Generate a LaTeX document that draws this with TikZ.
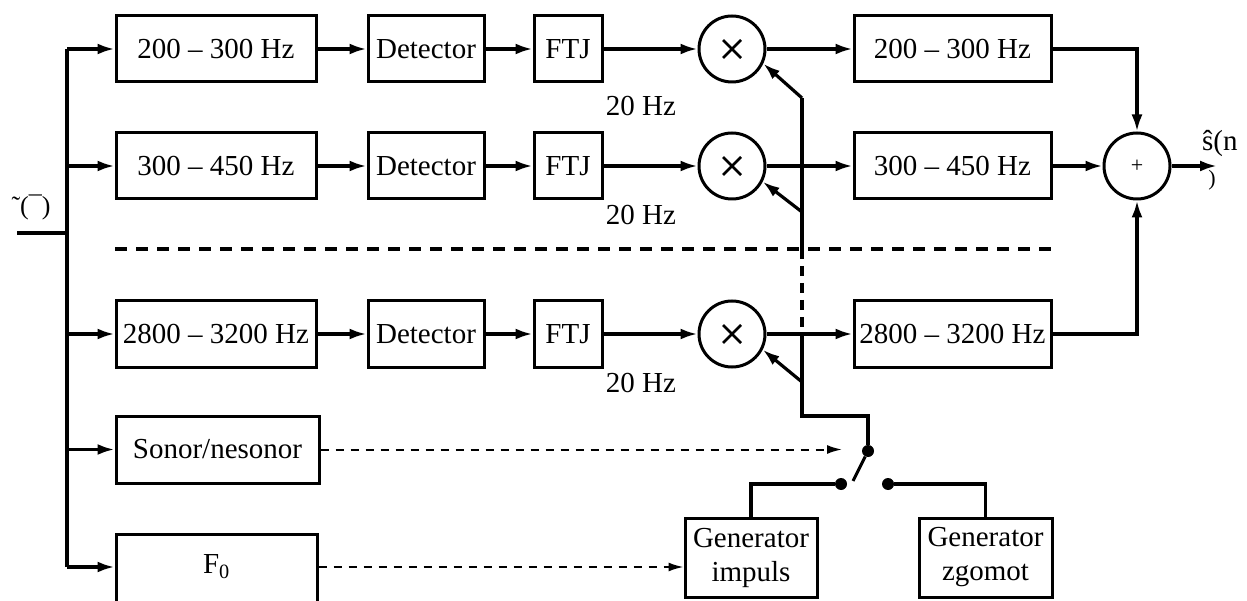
\documentclass[tikz,border=0pt]{standalone}
\usepackage{fontspec}
\setmainfont{Liberation Serif}
\usetikzlibrary{arrows.meta}
\begin{document}
\begin{tikzpicture}[x=1pt,y=-1pt, font=\fontsize{29}{34}\selectfont,
  blk/.style={draw, line width=3pt, inner sep=0pt, align=center},
  mul/.style={draw, circle, line width=3pt, minimum size=66pt, inner sep=0pt},
  conn/.style={line width=3.2pt},
  arr/.style={conn, -{Latex[length=17pt,width=11pt]}},
  darr/.style={line width=2pt, dash pattern=on 8pt off 7pt, -{Latex[length=15pt,width=9pt]}},
  sepline/.style={line width=3.2pt, dash pattern=on 12pt off 9pt},
  crs/.style={line width=2.6pt},
  dot/.style={circle, fill, inner sep=0pt, minimum size=12pt}]
\useasboundingbox (0,0) rectangle (1247,601);

% row 1
\node[blk, minimum width=200pt, minimum height=66pt] (b1) at (216,49) {200 -- 300 Hz};
\node[blk, minimum width=116pt, minimum height=66pt] (d1) at (426,49) {Detector};
\node[blk, minimum width=68pt, minimum height=66pt] (f1) at (568,49) {FTJ};
\node[mul] (m1) at (732,49) {};
\node[blk, minimum width=197pt, minimum height=66pt] (o1) at (952.5,49) {200 -- 300 Hz};
% row 2
\node[blk, minimum width=200pt, minimum height=66pt] (b2) at (216,166) {300 -- 450 Hz};
\node[blk, minimum width=116pt, minimum height=66pt] (d2) at (426,166) {Detector};
\node[blk, minimum width=68pt, minimum height=66pt] (f2) at (568,166) {FTJ};
\node[mul] (m2) at (732,166) {};
\node[blk, minimum width=197pt, minimum height=66pt] (o2) at (952.5,166) {300 -- 450 Hz};
% row 3
\node[blk, minimum width=200pt, minimum height=66pt] (b3) at (216,334) {2800 -- 3200 Hz};
\node[blk, minimum width=116pt, minimum height=66pt] (d3) at (426,334) {Detector};
\node[blk, minimum width=68pt, minimum height=66pt] (f3) at (568,334) {FTJ};
\node[mul] (m3) at (732,334) {};
\node[blk, minimum width=197pt, minimum height=66pt] (o3) at (952.5,334) {2800 -- 3200 Hz};
% others
\node[blk, minimum width=203pt, minimum height=67pt] (son) at (217.5,449.5) {Sonor/nesonor};
\node[blk, minimum width=201pt, minimum height=70pt] (f0) at (216.5,569) {};
\node[inner sep=0pt] (f0t) at (216.5,567) {F\textsubscript{0}};
\node[blk, minimum width=132pt, minimum height=79pt] (gi) at (751,557.5) {Generator\\impuls};
\node[blk, minimum width=133pt, minimum height=79pt] (gz) at (985.5,557.5) {Generator\\zgomot};
\node[mul] (sum) at (1137,166) {\fontsize{22}{22}\selectfont +};

% multiplication crosses
\foreach \m in {m1,m2,m3} {
  \draw[crs] ([shift={(-9,-9)}]\m.center) -- ([shift={(9,9)}]\m.center);
  \draw[crs] ([shift={(-9,9)}]\m.center) -- ([shift={(9,-9)}]\m.center);
}

% labels
\node (l1) at (641,106) {20 Hz};
\node (l2) at (641,215) {20 Hz};
\node (l3) at (641,383) {20 Hz};
\node[anchor=west, inner sep=0pt] (lout) at (1202,144) {ŝ(n};
\node[inner sep=0pt] (lpar) at (1212,180) {\fontsize{22}{22}\selectfont )};
\node[inner sep=0pt] (lin) at (31,207) {\fontsize{26}{26}\selectfont ˜(¯)};

% input bus
\coordinate (in) at (17,233);
\coordinate (bj) at (67,233);
\draw[conn] (in) -- (bj);
\draw[conn] (b1.west -| bj) -- (f0t.west -| bj);
\foreach \n in {b1,b2,b3,son} \draw[arr] (\n.west -| bj) -- (\n.west);
\draw[arr] (f0t.west -| bj) -- (f0t.west -| f0.west);

% rows
\foreach \r in {1,2,3} {
  \draw[arr] (b\r) -- (d\r);
  \draw[arr] (d\r) -- (f\r);
  \draw[arr] (f\r) -- (m\r);
  \draw[arr] (m\r) -- (o\r);
}
\draw[arr] (o1.east) -| (sum.north);
\draw[arr] (o2) -- (sum);
\draw[arr] (o3.east) -| (sum.south);
\coordinate (out) at (1217,166);
\draw[arr] (sum) -- (out);

% separator
\coordinate (s1) at (115,249);
\coordinate (s2) at (1052,249);
\draw[sepline] (s1) -- (s2);

% switch
\node[dot] (piv) at (868,451) {};
\node[dot] (ca) at (841,484) {};
\node[dot] (cb) at (888,484) {};
\coordinate (bl) at (853,481);
\draw[line width=3pt] (piv) -- (bl);
\draw[conn] (ca) -| (gi.north);
\draw[conn] (cb) -| (gz.north);

% control line
\coordinate (j1) at (802,98);
\coordinate (j2) at (802,212);
\coordinate (j3) at (802,382);
\coordinate (v1) at (802,249);
\coordinate (v2) at (802,336);
\coordinate (c1) at (802,416);
\coordinate (c2) at (868,416);
\draw[conn] (j1) -- (v1);
\draw[conn, dash pattern=on 10pt off 7pt] (v1) -- (v2);
\draw[conn] (v2) -- (c1) -- (c2) -- (piv);
\draw[arr] (j1) -- (m1.-25);
\draw[arr] (j2) -- (m2.-27);
\draw[arr] (j3) -- (m3.-27);

% dashed control arrows
\coordinate (sa) at (842,449.5);
\draw[darr] (son.east) -- (sa);
\draw[darr] (f0t.east -| f0.east) -- (f0t.east -| gi.west);
\end{tikzpicture}
\end{document}
